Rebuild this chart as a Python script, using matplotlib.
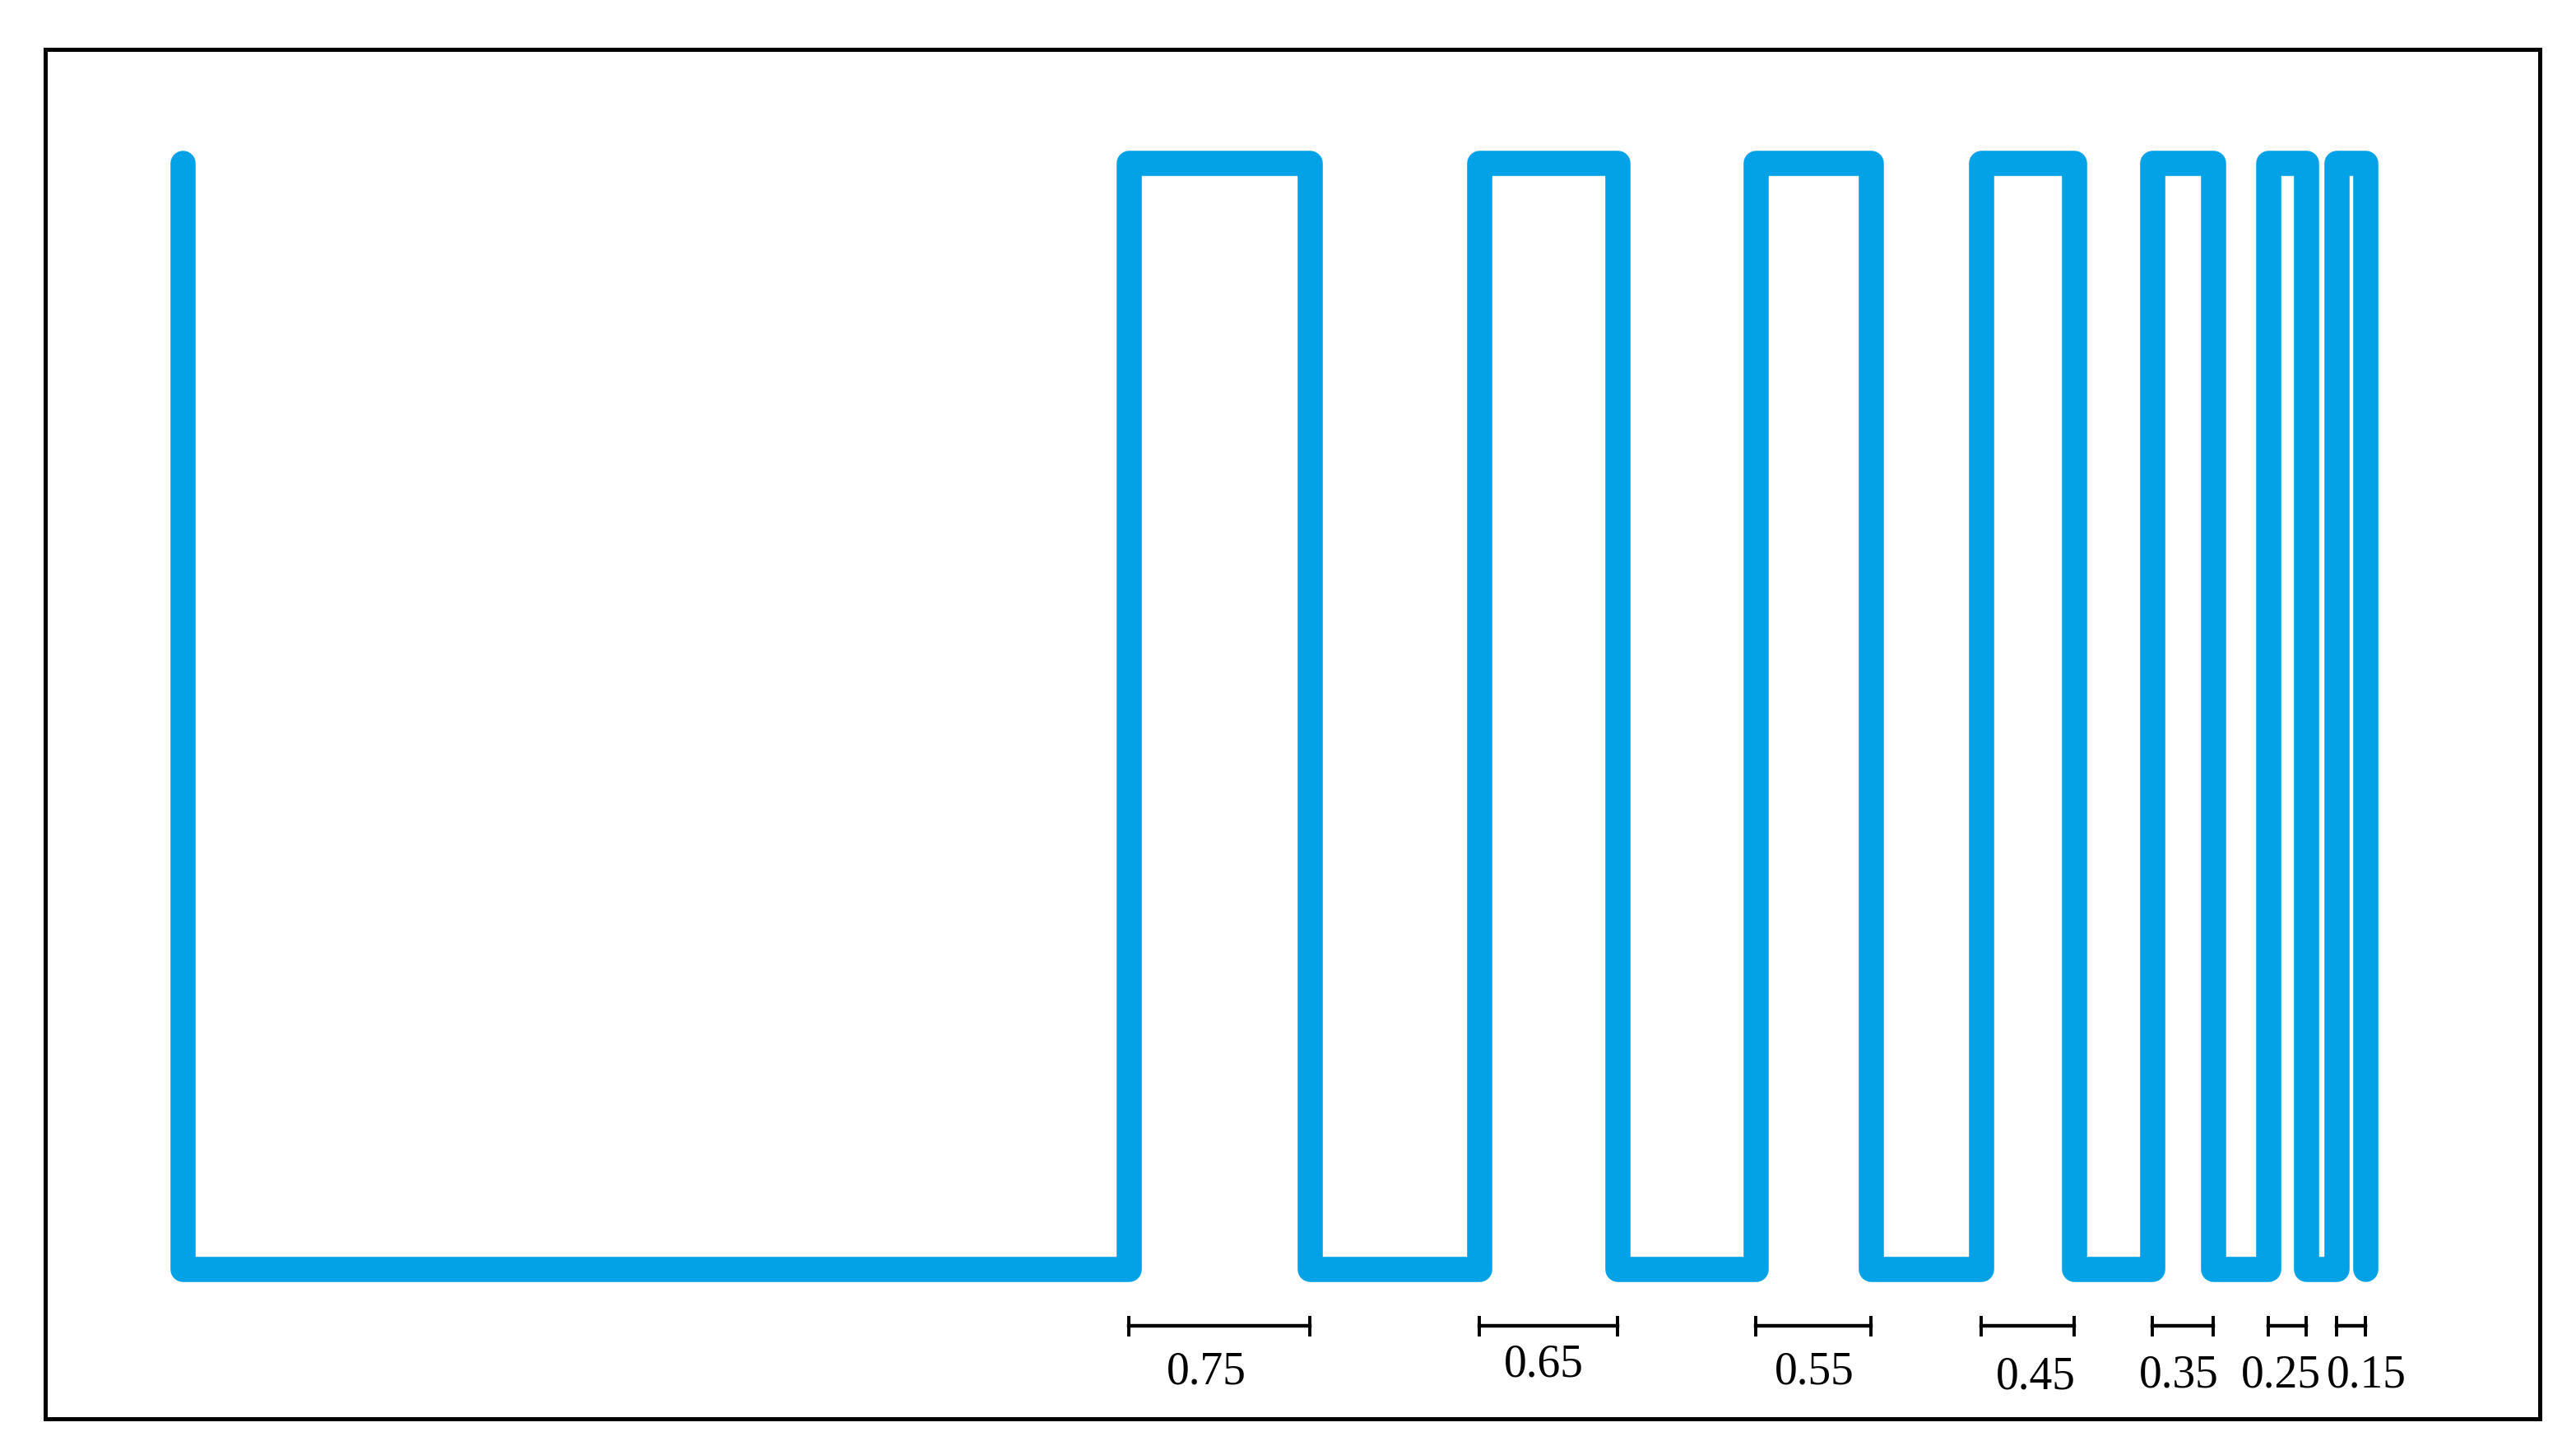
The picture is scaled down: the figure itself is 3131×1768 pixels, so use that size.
import matplotlib.pyplot as plt

# pulse train: switching times (time units) and duty labels
t_start = 1.67
t_rise = [13.17, 17.43, 20.79, 23.53, 25.61, 27.02, 27.85]
t_fall = [15.37, 19.11, 22.19, 24.66, 26.35, 27.48, 28.20]
widths = ["0.75", "0.65", "0.55", "0.45", "0.35", "0.25", "0.15"]
label_x = [14.11, 18.21, 21.50, 24.19, 25.93, 27.17, 28.21]
label_y = [-0.104, -0.0975, -0.104, -0.1087, -0.1065, -0.1065, -0.1065]

# build the step signal
xs = [t_start, t_start]
ys = [1, 0]
for r, f in zip(t_rise, t_fall):
    xs += [r, r, f, f]
    ys += [0, 1, 1, 0]

fig = plt.figure(figsize=(31.31, 17.68), dpi=100)
ax = fig.add_axes([55 / 3131, 1 - 1724 / 1768, 3032 / 3131, 1664 / 1768])

ax.plot(xs, ys, color='#03A1E6', lw=22, solid_joinstyle='round', solid_capstyle='round')

# brackets under each pulse
for r, f in zip(t_rise, t_fall):
    ax.plot([r, f], [-0.0514, -0.0514], color='black', lw=3.2,
            marker='|', ms=18, mew=2.8)

for txt, x, y in zip(widths, label_x, label_y):
    ax.text(x, y, txt, ha='center', va='baseline', fontsize=40,
            family='Liberation Serif', color='black')

ax.set_xlim(0, 30.32)
ax.set_ylim(-0.1355, 1.1028)
ax.set_xticks([])
ax.set_yticks([])
for s in ax.spines.values():
    s.set_linewidth(3.6)
    s.set_color('black')

plt.savefig("out.png", dpi=100)
